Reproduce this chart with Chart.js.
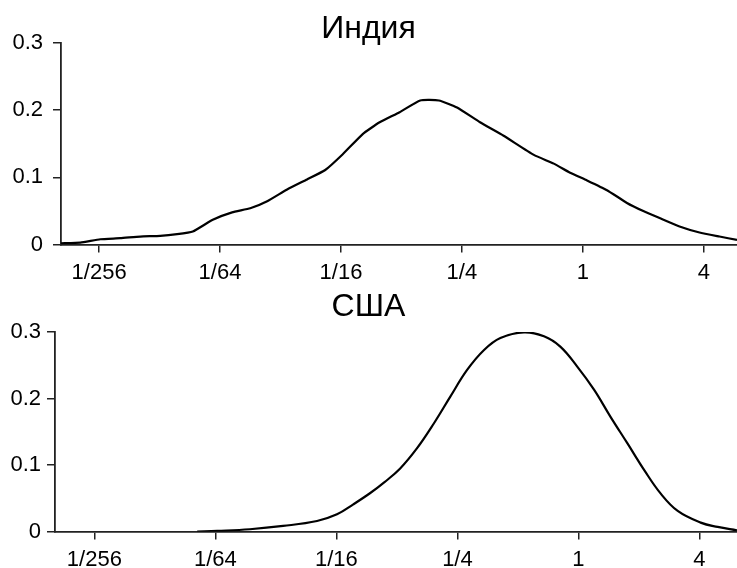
<!DOCTYPE html>
<html>
<head>
<meta charset="utf-8">
<script src="https://cdn.jsdelivr.net/npm/chart.js@4.4.1/dist/chart.umd.min.js"></script>
<style>
  body { margin: 0; background: #fff; overflow: hidden; }
  .box { position: absolute; left: 0; width: 737px; }
  #top-box { top: 0; height: 293px; }
  #bottom-box { top: 284px; height: 296px; }
</style>
</head>
<body>
<div class="box" id="top-box"><canvas id="india-chart" width="737" height="293"></canvas></div>
<div class="box" id="bottom-box"><canvas id="usa-chart" width="737" height="296"></canvas></div>
<script>
// x values are log2 of the ratio, so -8 = 1/256, 0 = 1, 2 = 4
const xTicks = [-8, -6, -4, -2, 0, 2];
const xTickLabels = ['1/256', '1/64', '1/16', '1/4', '1', '4'];
const yTicks = [0, 0.1, 0.2, 0.3];
const yTickLabels = ['0', '0.1', '0.2', '0.3'];

const indiaX = [-8.63, -8.31, -7.98, -7.65, -7.32, -6.99, -6.71, -6.45, -6.12, -5.80, -5.50, -5.22,
    -4.89, -4.56, -4.26, -3.97, -3.64, -3.36, -3.03, -2.69, -2.38, -2.08, -1.70, -1.31,
    -0.81, -0.48, -0.21, 0.07, 0.40, 0.73, 1.01, 1.27, 1.60, 1.93, 2.26, 2.55];
const indiaY = [0.002, 0.003, 0.008, 0.0095, 0.012, 0.013, 0.0155, 0.0195, 0.037, 0.048, 0.054, 0.0645,
    0.082, 0.097, 0.111, 0.1345, 0.1645, 0.182, 0.197, 0.2145, 0.2145, 0.204, 0.182, 0.162,
    0.1335, 0.1205, 0.107, 0.0955, 0.081, 0.062, 0.0495, 0.0395, 0.027, 0.018, 0.012, 0.007];

const usaX = [-6.30, -5.97, -5.43, -4.88, -4.32, -3.99, -3.72, -3.44, -3.21, -2.95, -2.67, -2.39,
    -2.12, -1.84, -1.56, -1.29, -0.90, -0.57, -0.30, -0.02, 0.26, 0.53, 0.81, 1.09,
    1.36, 1.64, 2.02, 2.30, 2.62];
const usaY = [0, 0.001, 0.0035, 0.0085, 0.016, 0.026, 0.041, 0.058, 0.074, 0.0945, 0.125, 0.1625,
    0.2025, 0.243, 0.273, 0.291, 0.2995, 0.2935, 0.278, 0.248, 0.213, 0.1725, 0.1325, 0.092,
    0.057, 0.031, 0.0135, 0.007, 0.002];

const fontFamily = '"Liberation Sans", Arial, Helvetica, sans-serif';
const axisColor = '#222';

const makeChart = (id, title, xs, ys, opts) => {
    const ctx = document.getElementById(id).getContext('2d');
    return new Chart(ctx, {
        type: 'line',
        data: {
            datasets: [{
                label: title,
                data: xs.map((x, i) => ({ x: x, y: ys[i] })),
                borderColor: '#000',
                borderWidth: 2.2,
                pointRadius: 0,
                tension: opts.tension,
                fill: false
            }]
        },
        options: {
            responsive: false,
            animation: false,
            layout: { padding: { top: 0, right: 0, bottom: 0, left: 0 } },
            plugins: {
                legend: { display: false },
                tooltip: { enabled: false },
                title: {
                    display: true,
                    text: title,
                    color: '#000',
                    font: { family: fontFamily, size: 32, weight: 'normal', lineHeight: 1 },
                    padding: { top: opts.titleTop, bottom: opts.titleBottom }
                }
            },
            scales: {
                x: {
                    type: 'linear',
                    min: opts.xMin,
                    max: opts.xMax,
                    afterBuildTicks: (scale) => { scale.ticks = xTicks.map(v => ({ value: v })); },
                    ticks: {
                        color: '#000',
                        font: { family: fontFamily, size: 22 },
                        padding: 7,
                        maxRotation: 0,
                        autoSkip: false,
                        callback: (v) => xTickLabels[xTicks.indexOf(v)]
                    },
                    grid: { drawOnChartArea: false, drawTicks: true, tickLength: 8, color: axisColor, lineWidth: 1.5 },
                    border: { display: true, color: axisColor, width: 1.8 }
                },
                y: {
                    min: 0,
                    max: 0.3,
                    afterBuildTicks: (scale) => { scale.ticks = yTicks.map(v => ({ value: v })); },
                    afterFit: (scale) => { scale.width = opts.yWidth; },
                    ticks: {
                        color: '#000',
                        font: { family: fontFamily, size: 22 },
                        padding: opts.yPad,
                        callback: (v) => yTickLabels[yTicks.indexOf(v)]
                    },
                    grid: { drawOnChartArea: false, drawTicks: true, tickLength: 8, color: axisColor, lineWidth: 1.5 },
                    border: { display: true, color: axisColor, width: 1.8 }
                }
            }
        }
    });
};

makeChart('india-chart', 'Индия', indiaX, indiaY, {
    tension: 0.15, xMin: -8.63, xMax: 2.55, yWidth: 61, yPad: 10,
    titleTop: 13, titleBottom: -2
});

makeChart('usa-chart', 'США', usaX, usaY, {
    tension: 0.4, xMin: -8.65, xMax: 2.62, yWidth: 55, yPad: 6,
    titleTop: 7, titleBottom: 9
});
</script>
</body>
</html>
